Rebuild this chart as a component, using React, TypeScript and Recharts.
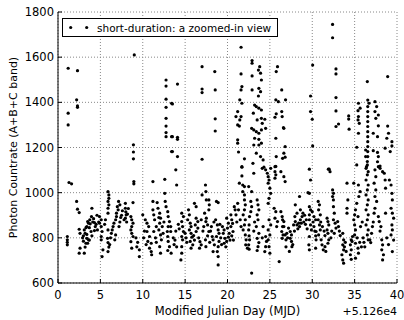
import React from 'react';
import { ScatterChart, Scatter, XAxis, YAxis, CartesianGrid, Legend, Label } from 'recharts';

type Pt = [number, number]; // [MJD - 51260, countrate]

const days0to5: Pt[] = [
  [1.2, 1551], [2.3, 1540], [2.2, 1411], [2.3, 1384], [2.3, 1378], [1.2, 1352], [1.2, 1300],
  [1.3, 1045], [1.6, 1039], [1.1, 806], [1.1, 791], [1.1, 769], [1.1, 780],
  [2.2, 961], [2.3, 927], [2.5, 912], [2.5, 838], [2.6, 820], [2.6, 754], [2.5, 732], [3.1, 732],
  [3.1, 835], [3.2, 820], [3.0, 809], [3.4, 798], [3.3, 776], [3.2, 759],
  [3.4, 850], [3.6, 865], [3.5, 872], [3.75, 880], [3.95, 894], [4.0, 931],
  [3.9, 828], [4.0, 809], [3.6, 791], [3.5, 776], [4.3, 868], [4.4, 850], [4.3, 832], [4.65, 835],
  [4.9, 894], [5.1, 880], [4.9, 865], [5.1, 850], [5.2, 828], [5.1, 806], [5.1, 791], [5.3, 747], [5.2, 717],
  [3.3, 845], [3.7, 845], [4.1, 870], [4.2, 885], [3.8, 862], [2.9, 800], [3.0, 785], [3.7, 790],
  [4.5, 860], [4.6, 900], [4.8, 870], [3.4, 815],
];

const days5to10: Pt[] = [
  [5.9, 1005], [6.0, 990], [6.0, 975], [5.9, 961], [6.0, 946], [5.9, 931], [5.9, 909],
  [5.9, 835], [5.85, 798], [5.9, 779], [6.0, 759], [5.9, 739],
  [6.4, 835], [6.5, 850], [6.6, 865], [6.8, 880], [6.9, 894], [6.9, 909], [6.8, 813], [6.7, 791],
  [7.0, 938], [7.1, 924], [7.3, 946], [7.15, 961], [7.95, 953], [7.95, 931], [8.05, 902], [7.95, 887], [7.8, 880],
  [8.6, 894], [8.7, 880], [8.85, 865], [8.7, 850], [8.6, 835], [8.7, 820], [8.85, 806], [8.6, 783], [8.7, 754],
  [8.95, 1049], [8.95, 1039], [8.85, 956], [9.0, 1610], [8.9, 1212], [8.9, 1180], [8.9, 1150],
  [9.6, 747], [9.6, 717],
  [6.3, 820], [6.2, 800], [7.5, 900], [7.6, 920], [7.4, 890], [8.0, 915], [8.1, 870], [5.5, 860],
  [5.6, 880], [6.1, 770], [7.2, 850], [7.3, 870], [8.3, 930], [8.2, 905], [9.3, 760], [9.2, 800], [9.4, 780],
];

const days10to15: Pt[] = [
  [10.0, 902], [10.3, 880], [10.5, 865], [10.7, 850], [10.5, 828], [10.8, 806], [10.6, 784], [11.0, 776],
  [10.8, 754], [11.0, 739], [11.05, 725], [11.2, 961], [11.2, 924], [11.3, 902], [11.4, 880], [11.6, 850],
  [11.3, 828], [11.2, 1049], [11.7, 956], [11.8, 931], [12.0, 909], [12.1, 887], [12.0, 865], [11.9, 835],
  [12.1, 813], [12.2, 791], [12.0, 761], [12.1, 732], [12.6, 1059], [12.6, 997],
  [12.65, 961], [12.75, 938], [12.95, 916], [13.0, 894], [13.15, 872], [13.0, 850], [12.9, 828], [12.95, 806],
  [13.0, 784], [13.15, 761], [12.95, 744], [13.35, 732], [13.3, 850], [13.3, 828],
  [12.75, 1499], [12.75, 1472], [12.75, 1414], [12.75, 1378], [13.4, 1396], [12.75, 1329], [12.75, 1295],
  [12.75, 1266], [12.75, 1248], [13.4, 1248], [13.4, 1182],
  [14.1, 1481], [13.5, 1393], [13.5, 1248], [14.1, 1245], [14.1, 1236], [13.5, 1182], [14.1, 1160],
  [13.9, 1101], [14.0, 1034],
  [14.6, 909], [14.8, 894], [14.6, 872], [14.7, 850], [14.8, 828], [14.6, 806], [14.7, 791], [14.6, 761],
  [14.6, 732], [14.5, 702],
  [10.2, 830], [10.1, 800], [10.4, 770], [11.5, 800], [11.6, 780], [12.4, 820], [12.3, 850], [13.6, 800],
  [13.8, 790], [13.9, 830], [14.2, 860], [14.3, 840], [13.7, 770], [14.0, 760], [12.5, 870], [11.9, 890],
];

const days15to20: Pt[] = [
  [15.4, 924], [15.5, 902], [15.3, 880], [15.6, 865], [15.7, 850], [15.5, 835], [15.7, 820], [15.8, 803],
  [15.6, 784], [15.9, 769], [15.7, 754], [16.1, 953], [16.3, 938], [16.3, 887], [16.5, 872], [16.2, 857],
  [16.5, 843], [16.3, 828], [16.75, 783], [16.9, 769], [16.7, 754], [17.0, 990], [17.45, 1005], [17.4, 1034],
  [17.5, 968], [17.3, 909], [17.5, 887], [17.45, 872], [17.65, 857], [17.8, 828], [17.65, 809], [17.4, 791],
  [17.45, 761], [17.8, 968], [17.85, 946], [17.8, 924], [18.2, 806], [18.3, 791], [18.45, 769], [18.3, 739],
  [18.7, 961], [18.9, 956], [18.6, 880], [18.8, 857], [18.9, 835], [19.0, 820], [18.7, 806], [19.0, 784],
  [18.9, 761], [18.8, 739], [18.9, 717], [18.9, 680], [19.4, 850], [19.6, 835], [19.5, 820], [19.7, 798],
  [19.6, 776], [19.9, 887], [20.1, 865], [20.0, 843], [20.2, 820], [20.1, 803], [19.9, 784],
  [17.0, 1558], [18.5, 1536], [17.0, 1459], [17.0, 1443], [18.55, 1455], [18.55, 1327], [18.55, 1273], [17.0, 1148],
  [15.0, 820], [15.1, 800], [15.2, 780], [16.0, 810], [16.1, 790], [16.6, 800], [17.1, 830], [17.2, 850],
  [18.0, 830], [18.1, 850], [18.4, 870], [19.2, 800], [19.3, 770], [19.8, 760], [20.3, 790], [19.1, 860],
  [17.9, 780], [16.9, 880],
];

const days20to25Low: Pt[] = [
  [20.4, 902], [20.5, 880], [20.6, 864], [20.4, 850], [20.65, 828], [20.5, 809], [20.8, 938], [20.9, 924],
  [21.0, 902], [21.2, 953], [21.3, 924], [21.4, 1042], [21.8, 1034], [21.7, 1115], [21.7, 1074],
  [21.8, 1005], [22.0, 990], [22.0, 968], [22.1, 946], [22.0, 924], [21.85, 902], [22.1, 880], [22.0, 857],
  [21.85, 835], [22.1, 813], [22.2, 791], [22.15, 769], [22.35, 754], [22.0, 1027], [22.5, 1027], [22.85, 1005],
  [22.75, 961], [22.85, 938], [22.75, 916], [22.6, 894], [22.55, 857], [22.5, 835], [22.55, 809], [22.6, 791],
  [22.5, 769], [22.55, 750], [22.85, 644], [23.1, 1086], [23.5, 968], [23.6, 946], [23.7, 924], [23.5, 902],
  [23.6, 880], [23.4, 850], [23.7, 820], [23.5, 798], [23.7, 779], [23.6, 761], [23.5, 744],
  [24.1, 1108], [24.5, 1101], [24.7, 1086], [24.8, 1071], [24.9, 1056], [24.8, 1042], [25.0, 1020],
  [25.1, 997], [24.9, 975], [24.8, 953], [24.9, 880], [25.1, 857], [24.8, 835], [25.0, 813], [24.8, 791],
  [24.9, 761], [25.0, 732], [24.5, 806], [24.6, 784], [24.5, 761], [24.4, 739],
  [20.7, 790], [21.1, 870], [21.5, 880], [21.6, 850], [23.1, 830], [23.2, 870], [24.2, 850], [24.1, 800],
];

const days20to25High: Pt[] = [
  [21.6, 1644], [22.9, 1585], [22.9, 1573], [23.8, 1558], [23.65, 1543], [23.9, 1529], [24.0, 1499],
  [22.9, 1517], [21.6, 1526], [21.7, 1470], [21.6, 1455], [22.9, 1455], [23.7, 1462], [23.9, 1447],
  [23.65, 1428], [21.45, 1411], [21.7, 1396], [21.2, 1359], [21.0, 1337], [21.6, 1337], [21.45, 1322],
  [23.2, 1388], [23.4, 1381], [23.7, 1374], [24.0, 1366], [23.05, 1352], [23.5, 1322], [24.0, 1329],
  [24.1, 1307], [22.85, 1285], [23.1, 1278], [23.4, 1270], [23.7, 1263], [24.0, 1278], [24.5, 1285],
  [21.2, 1300], [21.4, 1295], [21.2, 1234], [21.2, 1219], [23.2, 1241], [23.7, 1236], [23.1, 1211],
  [23.7, 1211], [24.0, 1219], [23.4, 1175], [23.9, 1160], [21.7, 1113], [24.3, 1113], [24.4, 1325],
  [21.3, 1180], [22.0, 1150], [23.0, 1130], [24.2, 1145],
];

const days25to30: Pt[] = [
  [25.6, 1115], [25.6, 1093], [25.7, 1079], [25.6, 1064], [25.5, 931], [25.7, 916], [25.6, 887],
  [25.9, 872], [25.8, 850], [26.3, 1093], [26.65, 1071], [26.8, 1049], [26.5, 880], [26.65, 850],
  [26.8, 813], [26.9, 791],
  [25.9, 1558], [25.75, 1536], [25.7, 1411], [26.0, 1403], [26.85, 1411], [25.75, 1349], [25.6, 1334],
  [26.45, 1337], [26.65, 1285], [25.7, 1241], [26.8, 1204], [25.75, 1160], [26.8, 1157], [25.1, 1108],
  [25.7, 1116], [26.4, 1455], [26.4, 1359], [26.6, 1288], [26.65, 1175], [26.5, 1152],
  [26.3, 916], [26.45, 894], [26.65, 872], [26.5, 850], [26.4, 828], [26.55, 813], [26.45, 798], [26.1, 695],
  [27.2, 843], [27.4, 828], [27.55, 813], [27.4, 798], [27.55, 784], [27.6, 761], [27.8, 857], [28.0, 872],
  [27.95, 894], [28.2, 909], [28.2, 857], [28.4, 865], [28.6, 880], [28.8, 894], [28.7, 865], [28.9, 909],
  [28.6, 924], [28.0, 946], [28.5, 983], [29.66, 1104], [29.8, 1056], [29.66, 997], [29.5, 1000],
  [29.66, 938], [29.8, 924], [29.66, 902], [29.66, 880], [29.8, 857], [29.9, 835], [29.66, 806],
  [29.6, 769], [29.66, 747], [29.8, 1428], [29.8, 1359], [30.0, 1325], [30.05, 1207], [30.05, 1565],
  [27.0, 820], [27.1, 800], [27.9, 830], [28.3, 840], [28.5, 850], [29.0, 870], [29.2, 860], [29.3, 880],
  [29.1, 900], [27.7, 770], [29.4, 840], [26.9, 760], [27.3, 740],
];

const days30to35: Pt[] = [
  [30.0, 916], [30.2, 894], [30.4, 880], [30.2, 850], [30.45, 828], [30.4, 809], [30.45, 791], [30.4, 754],
  [30.7, 961], [30.85, 946], [30.75, 924], [30.95, 902], [30.7, 880], [30.85, 857], [30.95, 835],
  [30.75, 813], [31.05, 791], [31.15, 769], [31.3, 747], [31.5, 761], [31.75, 887], [31.85, 872],
  [31.95, 857], [31.75, 835], [31.85, 820], [31.95, 791], [31.85, 776], [32.0, 1104], [32.1, 1093],
  [32.4, 1012], [32.5, 997], [32.4, 983], [32.5, 968], [32.5, 938], [32.6, 909], [32.5, 880], [32.7, 865],
  [32.8, 843], [32.6, 820], [33.0, 872], [33.1, 850], [33.6, 820], [33.7, 791], [33.6, 769], [33.7, 747],
  [33.5, 725], [33.6, 702], [33.7, 688], [34.1, 1042], [34.2, 968], [34.1, 931], [34.1, 909],
  [34.6, 791], [34.5, 769], [34.6, 747], [34.5, 725], [34.6, 705], [34.75, 806], [34.7, 784],
  [35.0, 902], [34.9, 880], [35.0, 857], [35.1, 835], [35.0, 813], [34.9, 1042], [35.45, 1034],
  [35.65, 1005], [35.5, 983], [35.25, 953], [35.1, 924], [35.4, 894], [35.1, 776], [35.4, 754],
  [35.45, 732], [35.1, 710],
  [32.4, 1745], [32.4, 1686], [32.8, 1548], [32.8, 1526], [32.8, 1421], [32.8, 1362], [33.1, 1304],
  [32.8, 1293], [34.3, 1340], [34.3, 1326], [34.35, 1281], [31.9, 1104],
  [30.1, 870], [30.3, 830], [31.0, 870], [31.2, 850], [31.4, 830], [31.5, 810], [32.2, 800], [32.3, 830],
  [33.2, 830], [33.3, 810], [33.8, 760], [34.0, 740], [33.9, 780], [31.6, 740],
];

const days35to40: Pt[] = [
  [36.5, 1138], [36.5, 1123], [36.35, 1108], [36.6, 1093], [36.5, 1079], [36.35, 1056], [36.6, 1034],
  [36.5, 1012], [36.35, 990], [36.6, 968], [36.5, 946], [36.35, 924], [36.6, 902], [36.5, 880],
  [36.35, 857], [36.6, 835], [36.5, 813], [36.6, 791], [36.8, 791], [36.9, 779],
  [37.4, 1101], [37.5, 1071], [37.3, 1042], [37.5, 1012], [37.4, 983], [37.6, 961], [37.4, 931], [37.3, 909],
  [37.8, 1115], [38.0, 1108], [38.3, 1093], [38.5, 1086], [38.6, 1056], [38.65, 1020], [37.8, 894],
  [37.9, 872], [38.2, 791], [38.3, 769], [38.2, 747], [38.4, 725], [38.3, 702], [38.65, 909],
  [39.1, 1056], [39.3, 1034], [39.4, 997], [39.45, 968], [39.3, 931], [39.45, 909], [39.6, 887],
  [39.4, 857], [39.45, 835], [39.3, 813], [39.45, 739],
  [36.5, 1492], [38.9, 1514], [35.45, 1396], [35.65, 1374], [35.4, 1363], [35.45, 1337], [35.4, 1322],
  [35.55, 1307], [35.45, 1263], [36.55, 1410], [36.7, 1396], [36.55, 1381], [36.55, 1359], [36.55, 1337],
  [36.55, 1315], [36.55, 1293], [36.55, 1270], [36.55, 1248], [36.55, 1226], [36.55, 1204], [36.55, 1182],
  [36.55, 1160], [37.4, 1403], [37.6, 1381], [37.4, 1359], [37.5, 1329], [37.8, 1344], [37.8, 1296],
  [37.2, 1263], [37.7, 1248], [38.9, 1295], [39.0, 1263], [38.8, 1241], [39.4, 1226], [39.4, 1207],
  [35.25, 1201], [35.25, 1123], [36.3, 1189], [36.3, 1160], [36.4, 1115], [37.2, 1186], [37.7, 1178],
  [37.8, 1160], [37.7, 1137], [38.0, 1118], [38.6, 1197], [39.2, 1182],
  [35.3, 800], [35.6, 780], [35.8, 760], [36.0, 800], [36.2, 760], [36.1, 780], [37.0, 820], [37.1, 850],
  [37.2, 870], [38.0, 830], [38.1, 850], [38.8, 800], [39.0, 770], [39.6, 790], [35.7, 850], [35.9, 870],
];

const xTicks = [0, 5, 10, 15, 20, 25, 30, 35, 40];
const yTicks = [600, 800, 1000, 1200, 1400, 1600, 1800];
const xTitle = 'Modified Julian Day (MJD)';
const xOffsetText = '+5.126e4';
const yTitle = 'Photon Countrate (A+B+C band)';
const seriesName = 'short-duration: a zoomed-in view';

const allPoints: Pt[] = [
  ...days0to5, ...days5to10, ...days10to15, ...days15to20,
  ...days20to25Low, ...days20to25High, ...days25to30, ...days30to35, ...days35to40,
];
const data = allPoints.map(([mjd, rate]) => ({ mjd, rate }));

const FONT = "'DejaVu Sans', sans-serif";
const TICK_LEN = 4;
const TICK_FS = 11.5;

const BottomTick = (p: any) => (
  <g>
    <line x1={p.x} y1={p.y} x2={p.x} y2={p.y - TICK_LEN} stroke="#000" strokeWidth={1} />
    <text x={p.x} y={p.y + 16} textAnchor="middle" fontSize={TICK_FS} fontFamily={FONT} fill="#000">
      {p.payload.value}
    </text>
  </g>
);
const TopTick = (p: any) => (
  <line x1={p.x} y1={p.y} x2={p.x} y2={p.y + TICK_LEN} stroke="#000" strokeWidth={1} />
);
const LeftTick = (p: any) => (
  <g>
    <line x1={p.x} y1={p.y} x2={p.x + TICK_LEN} y2={p.y} stroke="#000" strokeWidth={1} />
    <text x={p.x - 4} y={p.y + 4} textAnchor="end" fontSize={TICK_FS} fontFamily={FONT} fill="#000">
      {p.payload.value}
    </text>
  </g>
);
const RightTick = (p: any) => (
  <line x1={p.x} y1={p.y} x2={p.x - TICK_LEN} y2={p.y} stroke="#000" strokeWidth={1} />
);

const Dot = (p: any) => <circle cx={p.cx} cy={p.cy} r={1.6} fill="#000" />;

const LegendBox = () => (
  <svg width={216} height={19} style={{ display: 'block' }}>
    <rect x={0.5} y={0.5} width={215} height={18} fill="#fff" stroke="#000" strokeWidth={1} />
    <circle cx={8.7} cy={9.5} r={1.6} fill="#000" />
    <circle cx={24.7} cy={9.5} r={1.6} fill="#000" />
    <text x={35} y={13.5} fontSize={10.5} fontFamily={FONT} fill="#000">{seriesName}</text>
  </svg>
);

export default function App() {
  return (
    <div style={{ position: 'absolute', left: 0, top: 0, width: 404, height: 320, background: '#fff' }}>
      <ScatterChart width={404} height={320} margin={{ top: 12, right: 7, bottom: 0, left: 0 }}>
        <CartesianGrid stroke="#888" strokeDasharray="1 2" strokeWidth={1} />
        <XAxis
          dataKey="mjd" type="number" domain={[0, 40]} ticks={xTicks} interval={0}
          allowDataOverflow height={37} tickSize={0} tickMargin={0} tickLine={false}
          axisLine={{ stroke: '#000', strokeWidth: 1 }} tick={<BottomTick />}
        >
          <Label
            content={(p: any) => {
              const vb = p.viewBox;
              return (
                <g fontFamily={FONT} fill="#000">
                  <text x={vb.x + vb.width / 2} y={vb.y + 32} textAnchor="middle" fontSize={11.5}>{xTitle}</text>
                  <text x={vb.x + vb.width} y={vb.y + 32} textAnchor="end" fontSize={11}>{xOffsetText}</text>
                </g>
              );
            }}
          />
        </XAxis>
        <XAxis
          xAxisId="top" orientation="top" dataKey="mjd" type="number" domain={[0, 40]} ticks={xTicks}
          interval={0} allowDataOverflow height={0} tickSize={0} tickMargin={0} tickLine={false}
          axisLine={{ stroke: '#000', strokeWidth: 1 }} tick={<TopTick />}
        />
        <YAxis
          dataKey="rate" type="number" domain={[600, 1800]} ticks={yTicks} interval={0}
          allowDataOverflow width={58} tickSize={0} tickMargin={0} tickLine={false}
          axisLine={{ stroke: '#000', strokeWidth: 1 }} tick={<LeftTick />}
        >
          <Label
            content={(p: any) => {
              const vb = p.viewBox;
              const cy = vb.y + vb.height / 2;
              return (
                <text
                  transform={`translate(${vb.x + 16.5}, ${cy}) rotate(-90)`}
                  textAnchor="middle" fontSize={11} fontFamily={FONT} fill="#000"
                >
                  {yTitle}
                </text>
              );
            }}
          />
        </YAxis>
        <YAxis
          yAxisId="right" orientation="right" dataKey="rate" type="number" domain={[600, 1800]}
          ticks={yTicks} interval={0} allowDataOverflow width={0} tickSize={0} tickMargin={0}
          tickLine={false} axisLine={{ stroke: '#000', strokeWidth: 1 }} tick={<RightTick />}
        />
        <Legend
          layout="horizontal" verticalAlign="middle" align="center"
          wrapperStyle={{ left: 62, top: 18, width: 216, height: 19 }}
          content={() => <LegendBox />}
        />
        <Scatter name={seriesName} data={data} dataKey="rate" isAnimationActive={false} shape={<Dot />} />
      </ScatterChart>
    </div>
  );
}
